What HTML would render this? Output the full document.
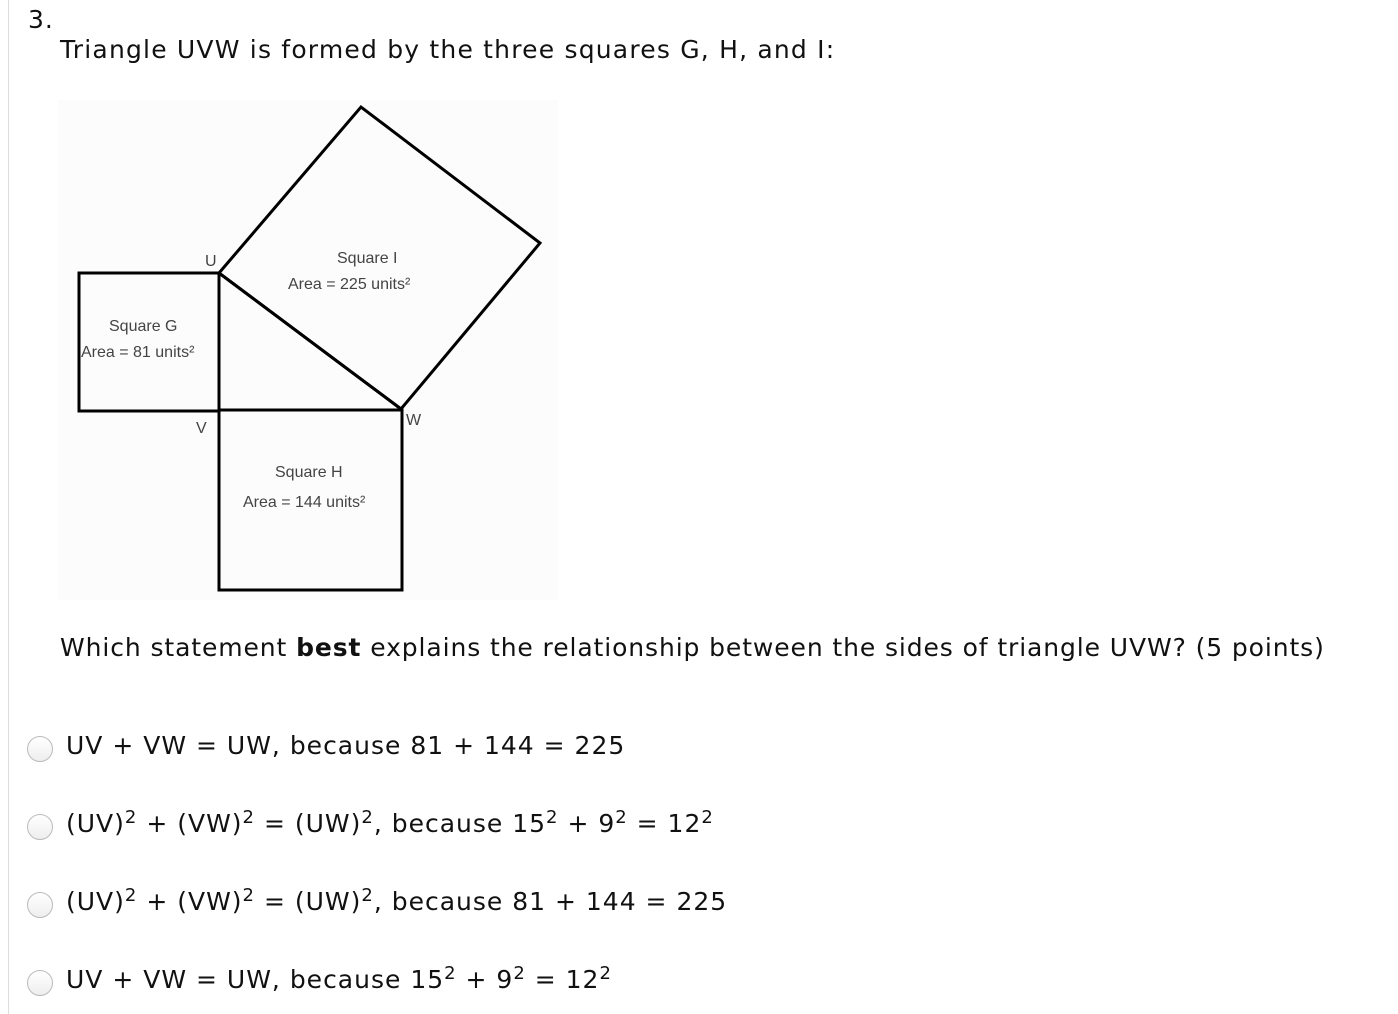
<!DOCTYPE html>
<html><head><style>
body{margin:0;width:1398px;height:1014px;background:#fff;position:relative;overflow:hidden;font-family:"DejaVu Sans","Liberation Sans",sans-serif;color:#111}
.t{position:absolute;white-space:nowrap;font-size:25px;letter-spacing:1px}
.r{position:absolute;left:27px;width:26px;height:26px;border-radius:50%;border:1px solid #bbb;background:linear-gradient(#fff,#eee);box-sizing:border-box}
sup{font-size:18px;vertical-align:9px;line-height:0}
.bar{position:absolute;left:8px;top:0;width:1px;height:1014px;background:#ddd}
</style></head><body>
<div class="bar"></div>
<div class="t" style="left:28px;top:5px">3.</div>
<div class="t" style="left:60px;top:35px;letter-spacing:1.2px">Triangle UVW is formed by the three squares G, H, and I:</div>
<svg style="position:absolute;left:0;top:0" width="700" height="620" font-family="Liberation Sans,sans-serif" font-size="16" fill="#444">
<rect x="58" y="100" width="500" height="500" fill="#fcfcfc"/>
<g stroke="#000" stroke-width="3" fill="none">
<rect x="79" y="273" width="140" height="138"/>
<rect x="219" y="410" width="183" height="180"/>
<polygon points="219,273 361,107 540,243 401,409"/>
<line x1="219" y1="273" x2="401" y2="409"/>
</g>
<text x="205" y="266">U</text>
<text x="196" y="433">V</text>
<text x="406" y="425">W</text>
<text x="337" y="263">Square I</text>
<text x="288" y="289">Area =  225 units²</text>
<text x="109" y="331">Square G</text>
<text x="81" y="357">Area = 81 units²</text>
<text x="275" y="477">Square H</text>
<text x="243" y="507">Area = 144 units²</text>
</svg>
<div class="t" style="left:60px;top:633px;letter-spacing:0.9px">Which statement <b>best</b> explains the relationship between the sides of triangle UVW? (5 points)</div>
<div class="r" style="top:736px"></div>
<div class="t" style="left:66px;top:731px">UV + VW = UW, because 81 + 144 = 225</div>
<div class="r" style="top:814px"></div>
<div class="t" style="left:66px;top:809px">(UV)<sup>2</sup> + (VW)<sup>2</sup> = (UW)<sup>2</sup>, because 15<sup>2</sup> + 9<sup>2</sup> = 12<sup>2</sup></div>
<div class="r" style="top:892px"></div>
<div class="t" style="left:66px;top:887px">(UV)<sup>2</sup> + (VW)<sup>2</sup> = (UW)<sup>2</sup>, because 81 + 144 = 225</div>
<div class="r" style="top:970px"></div>
<div class="t" style="left:66px;top:965px">UV + VW = UW, because 15<sup>2</sup> + 9<sup>2</sup> = 12<sup>2</sup></div>
</body></html>
